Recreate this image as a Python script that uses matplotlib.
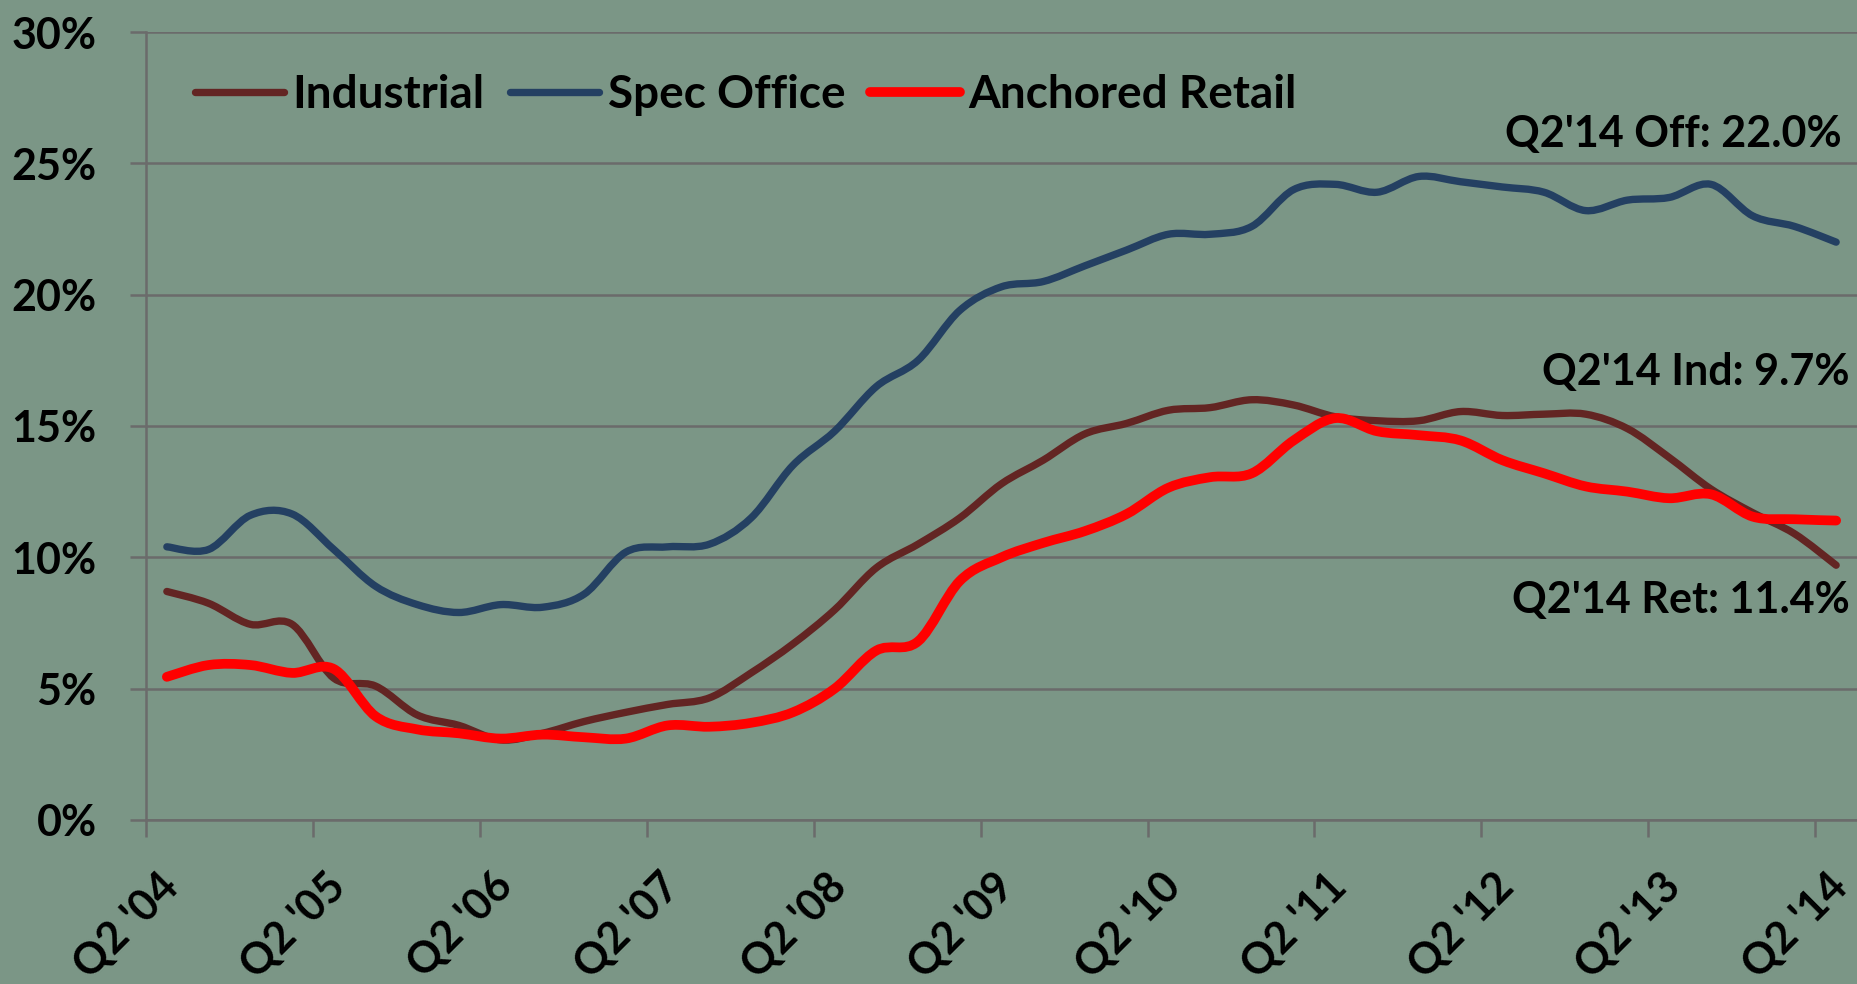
import numpy as np
import matplotlib.pyplot as plt
from matplotlib.path import Path
from matplotlib.patches import PathPatch
from matplotlib.transforms import ScaledTranslation

plt.rcParams['font.family'] = ['Lato', 'DejaVu Sans']
plt.rcParams['font.weight'] = 'bold'

# quarterly vacancy rates, Q2'04 .. Q2'14 (%)
industrial = [8.7, 8.25, 7.45, 7.45, 5.4, 5.1, 4.0, 3.6, 3.05, 3.3, 3.75, 4.1, 4.4, 4.65,
              5.6, 6.7, 8.0, 9.6, 10.5, 11.5, 12.8, 13.7, 14.7, 15.1, 15.6, 15.7, 16.0,
              15.8, 15.35, 15.2, 15.2, 15.55, 15.4, 15.45, 15.45, 14.9, 13.8, 12.6, 11.7,
              10.9, 9.7]
spec_office = [10.4, 10.3, 11.6, 11.65, 10.3, 8.9, 8.2, 7.9, 8.2, 8.1, 8.6, 10.2, 10.4, 10.5,
               11.5, 13.5, 14.8, 16.5, 17.5, 19.4, 20.3, 20.5, 21.1, 21.7, 22.3, 22.3, 22.6,
               24.0, 24.2, 23.9, 24.5, 24.3, 24.1, 23.9, 23.2, 23.6, 23.7, 24.2, 23.0,
               22.6, 22.0]
anchored_retail = [5.45, 5.9, 5.9, 5.6, 5.75, 3.95, 3.45, 3.3, 3.1, 3.25, 3.15, 3.1, 3.6, 3.55,
                   3.7, 4.1, 5.0, 6.45, 6.8, 9.1, 10.0, 10.55, 11.0, 11.65, 12.65, 13.05, 13.2,
                   14.45, 15.3, 14.8, 14.65, 14.45, 13.7, 13.2, 12.7, 12.5, 12.25, 12.4, 11.55,
                   11.45, 11.4]
tick_labels = ["Q2 '04", "Q2 '05", "Q2 '06", "Q2 '07", "Q2 '08", "Q2 '09",
               "Q2 '10", "Q2 '11", "Q2 '12", "Q2 '13", "Q2 '14"]
y_ticks = [0, 5, 10, 15, 20, 25, 30]
notes = ["Q2'14 Off: 22.0%", "Q2'14 Ind: 9.7%", "Q2'14 Ret: 11.4%"]

bg = '#7b9686'
grid_c = '#6b6b6b'


def smooth_path(xs, ys):
    # Excel-style smoothed line: cubic bezier through every point
    pts = np.column_stack([xs, ys])
    n = len(pts)
    verts = [pts[0]]
    codes = [Path.MOVETO]
    for i in range(n - 1):
        p0 = pts[max(i - 1, 0)]
        p1 = pts[i]
        p2 = pts[i + 1]
        p3 = pts[min(i + 2, n - 1)]
        verts += [p1 + (p2 - p0) / 6, p2 - (p3 - p1) / 6, p2]
        codes += [Path.CURVE4] * 3
    return Path(verts, codes)


fig = plt.figure(figsize=(18.57, 9.84), dpi=100, facecolor=bg)
ax = fig.add_axes([146/1857, 164/984, 1711/1857, 788/984])
ax.set_facecolor(bg)

# categories sit between tick marks, like the Excel axis
x = np.arange(len(industrial)) + 0.5
series = [('Industrial', industrial, '#632523', 5.3),
          ('Spec Office', spec_office, '#244062', 5.3),
          ('Anchored Retail', anchored_retail, '#ff0000', 7.0)]
handles = []
for name, vals, col, lw in series:
    ax.add_patch(PathPatch(smooth_path(x, vals), fill=False, edgecolor=col, lw=lw,
                           capstyle='round', joinstyle='round', zorder=3))
    h, = ax.plot([], [], color=col, lw=lw, solid_capstyle='round', label=name)
    handles.append(h)

ax.set_xlim(0, len(industrial))
ax.set_ylim(0, 30)
ax.set_yticks(y_ticks)
ax.set_yticklabels([f"{v}%" for v in y_ticks])
ax.set_xticks(np.arange(0, len(industrial), 4))
ax.set_xticklabels(tick_labels)

ax.grid(axis='y', color=grid_c, lw=1.8)
ax.set_axisbelow(True)
for s in ['top', 'right']:
    ax.spines[s].set_visible(False)
for s in ['left', 'bottom']:
    ax.spines[s].set_color(grid_c)
    ax.spines[s].set_linewidth(1.8)

ax.tick_params(axis='y', length=11.5, width=1.8, color=grid_c, pad=24, labelsize=31)
ax.tick_params(axis='x', length=12, width=1.8, color=grid_c, pad=31, labelsize=31)
shift = ScaledTranslation(0.26, 0, fig.dpi_scale_trans)
for lab in ax.get_xticklabels():
    lab.set_rotation(45)
    lab.set_ha('right')
    lab.set_va('center')
    lab.set_rotation_mode('anchor')
    lab.set_transform(lab.get_transform() + shift)

ax.legend(handles=handles, ncol=3, loc='center left', bbox_to_anchor=(0.0286, 0.92),
          frameon=False, fontsize=33, handlelength=1.95, handletextpad=0.18,
          columnspacing=0.55, borderpad=0, borderaxespad=0)

ax.text(40.64, 25.63, notes[0], ha='right', va='baseline', fontsize=31)
ax.text(40.81, 16.56, notes[1], ha='right', va='baseline', fontsize=31)
ax.text(40.83, 7.87, notes[2], ha='right', va='baseline', fontsize=31)

fig.savefig('out.png', dpi=100, facecolor=bg)
